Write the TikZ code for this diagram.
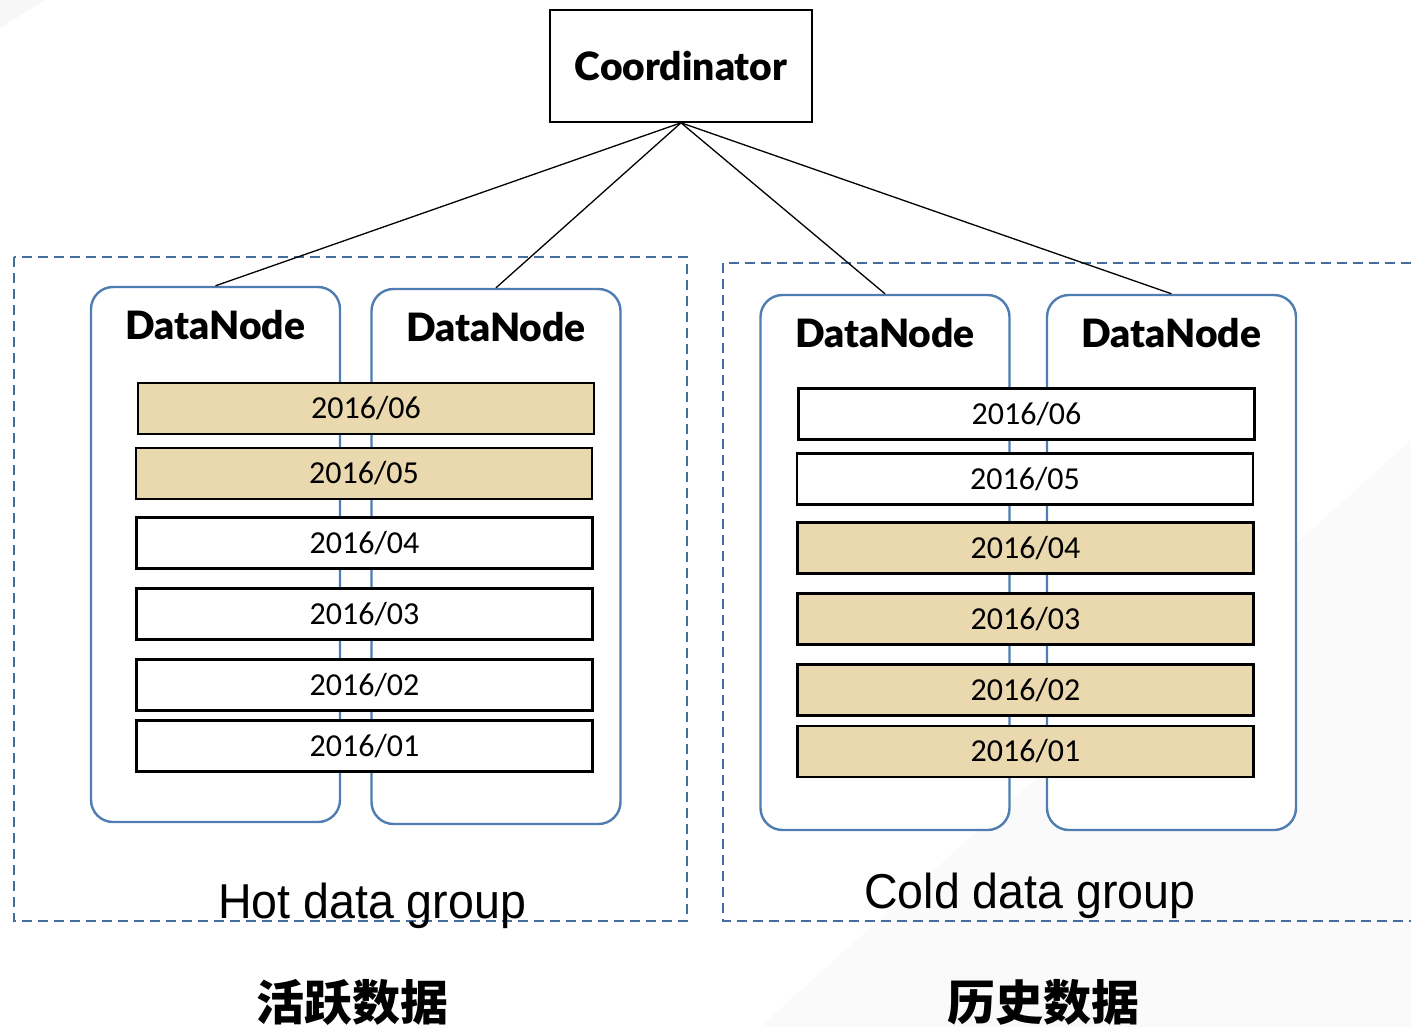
\documentclass[tikz,border=0pt]{standalone}
\usepackage{fontspec}
\usepackage{xcolor}
\usepackage{tikz}
\usetikzlibrary{positioning, calc}
\setmainfont{Carlito}
\newfontfamily\gillfont{Lato}[BoldFont={Lato Black}]
\newfontfamily\arialfont{Liberation Sans}[FakeStretch=0.95]
\newfontfamily\cjk{Noto Sans CJK SC}[BoldFont={Noto Sans CJK SC Black}]
\definecolor{dnblue}{RGB}{79,125,178}
\definecolor{dashblue}{RGB}{70,110,155}
\definecolor{tan}{RGB}{234,216,174}
\tikzstyle{coordbox} = [draw, line width=1.6pt, minimum width=262pt, minimum height=112pt, inner sep=0pt, font=\gillfont\bfseries\fontsize{39}{42}\selectfont]
\tikzstyle{dnbox} = [draw=dnblue, line width=2.4pt, rounded corners=22pt, fill=white, minimum width=249pt, minimum height=535pt, inner sep=0pt]
\tikzstyle{dntitle} = [font=\gillfont\bfseries\fontsize{39}{42}\selectfont, inner sep=0pt]
\tikzstyle{datebox} = [draw, line width=2.6pt, fill=white, minimum width=456pt, minimum height=51pt, inner sep=0pt, font=\fontsize{32}{35}\selectfont]
\tikzstyle{hotbox} = [datebox, fill=tan]
\tikzstyle{groupbox} = [draw=dashblue, line width=2.6pt, dash pattern=on 10pt off 6pt]
\tikzstyle{grouplabel} = [font=\arialfont\fontsize{49}{52}\selectfont, inner sep=0pt, anchor=base]
\tikzstyle{cnlabel} = [font=\cjk\bfseries\fontsize{48}{52}\selectfont, inner sep=0pt]
\tikzstyle{link} = [line width=1.3pt]

\begin{document}
\begin{tikzpicture}[x=1pt, y=-1pt]
    \useasboundingbox (0,0) rectangle (1411,1027);
    % faint background
    \fill[gray!4] (760,1027) -- (1411,440) -- (1411,1027) -- cycle;
    \fill[gray!6] (0,0) -- (45,0) -- (0,28) -- cycle;

    % Coordinator
    \node[coordbox] (coord) at (681,66) {Coordinator};

    % Groups
    \draw[groupbox] (14,257) rectangle (687,921);
    \draw[groupbox] (1411,263) -- (723,263) -- (723,921) -- (1411,921);

    % DataNodes
    \node[dnbox] (dn1) at (215.5,554.5) {};
    \node[dnbox] (dn2) at (496,556.5) {};
    \node[dnbox] (dn3) at (885,562.5) {};
    \node[dnbox] (dn4) at (1171.5,562.5) {};
    \node[dntitle] at ([yshift=-39pt]dn1.north) {DataNode};
    \node[dntitle] at ([yshift=-39pt]dn2.north) {DataNode};
    \node[dntitle] at ([yshift=-39pt]dn3.north) {DataNode};
    \node[dntitle] at ([yshift=-39pt]dn4.north) {DataNode};

    % Hot data
    \node[hotbox] (h6) at (366,408.5) {2016/06};
    \node[hotbox] (h5) at (364,473.5) {2016/05};
    \node[datebox] (h4) at (364.5,543) {2016/04};
    \node[datebox] (h3) at (364.5,614) {2016/03};
    \node[datebox] (h2) at (364.5,685) {2016/02};
    \node[datebox] (h1) at (364.5,746) {2016/01};

    % Cold data
    \node[datebox] (c6) at (1026.5,414) {2016/06};
    \node[datebox] (c5) at (1025,479) {2016/05};
    \node[hotbox] (c4) at (1025.5,548) {2016/04};
    \node[hotbox] (c3) at (1025.5,619) {2016/03};
    \node[hotbox] (c2) at (1025.5,690) {2016/02};
    \node[hotbox] (c1) at (1025.5,751.5) {2016/01};

    % Links
    \draw[link] (coord.south) -- (dn1.north);
    \draw[link] (coord.south) -- (dn2.north);
    \draw[link] (coord.south) -- (dn3.north);
    \draw[link] (coord.south) -- (dn4.north);

    % Labels
    \node[grouplabel] (hot) at (372,918) {Hot data group};
    \node[grouplabel] (cold) at (1030,908) {Cold data group};
    \node[cnlabel] (active) at (352,1002) {活跃数据};
    \node[cnlabel] (history) at (1043,1002) {历史数据};
\end{tikzpicture}
\end{document}
